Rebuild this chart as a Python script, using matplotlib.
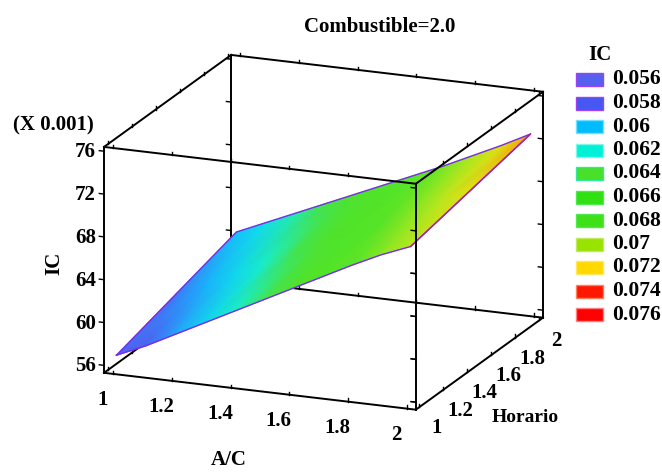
import numpy as np
import matplotlib
matplotlib.use('Agg')
import matplotlib.pyplot as plt
from matplotlib.colors import LinearSegmentedColormap
from matplotlib.patches import Rectangle
from mpl_toolkits.mplot3d import proj3d

W, H = 662, 472

# datos
ac_vals = [1.0, 1.1, 1.2, 1.3, 1.4, 1.5, 1.6, 1.7, 1.8, 1.9, 2.0]
horario_vals = [1.0, 1.5, 2.0]
ic_h1 = [56.8, 58.0, 59.4, 60.8, 62.2, 63.6, 65.0, 66.4, 67.8, 69.1, 70.2]
ic_h15 = [58.5, 59.7, 61.0, 62.3, 63.6, 64.9, 66.2, 67.5, 68.9, 70.2, 71.4]
ic_h2 = [60.2, 61.4, 62.6, 63.8, 65.0, 66.2, 67.4, 68.6, 69.9, 71.2, 72.6]

ac_ticks = [1, 1.2, 1.4, 1.6, 1.8, 2]
ac_labels = ['1', '1.2', '1.4', '1.6', '1.8', '2']
horario_ticks = [1, 1.2, 1.4, 1.6, 1.8, 2]
horario_labels = ['1', '1.2', '1.4', '1.6', '1.8', '2']
ic_ticks = [56, 60, 64, 68, 72, 76]

levels = [0.056, 0.058, 0.06, 0.062, 0.064, 0.066, 0.068, 0.07, 0.072, 0.074, 0.076]
level_labels = ['0.056', '0.058', '0.06', '0.062', '0.064', '0.066', '0.068', '0.07', '0.072', '0.074', '0.076']
level_colors = ['#5560ee', '#4658f2', '#00bcff', '#00f0d8', '#48e028', '#30e010',
                '#40e018', '#98e400', '#ffd800', '#ff1800', '#ff0000']
surface_colors = ['#5560ee', '#4c62f2', '#10c0ff', '#10f0e0', '#50e030', '#50e428',
                  '#58e428', '#b0e820', '#f8dc10', '#ff1800', '#ff0000']
swatch_edges = ['#a040f0', '#a040f0', '#70e0ff', '#80f8e8', '#30e8a0', '#50e850',
                '#50e850', '#c0e860', '#ffe860', '#ff8060', '#ff8080']

ac_lim = (0.97, 2.03)
hor_lim = (0.97, 2.03)
ic_lim = (55.3, 76.4)

plt.rcParams['font.family'] = ['Liberation Serif', 'DejaVu Serif']
plt.rcParams['font.weight'] = 'bold'

fig = plt.figure(figsize=(W / 100, H / 100), dpi=100)
S = 517.4
ax = fig.add_axes([57.8 / W, -26 / H, S / W, S / H], projection='3d', proj_type='ortho')
ax.view_init(elev=17, azim=-68)
ax.set_box_aspect((336, 339, 236))
ax.set_xlim(*ac_lim)
ax.set_ylim(*hor_lim)
ax.set_zlim(*ic_lim)
ax.set_axis_off()
ax.patch.set_alpha(0)

a0, a1 = ac_lim
h0, h1 = hor_lim
z0, z1 = ic_lim
BOX_LW = 1.4

# aristas que quedan detras de la superficie
back_edges = [
    ((a0, h0, z0), (a1, h0, z0)),
    ((a0, h0, z0), (a0, h1, z0)),
    ((a0, h1, z0), (a1, h1, z0)),
    ((a1, h0, z0), (a1, h1, z0)),
    ((a0, h0, z0), (a0, h0, z1)),
    ((a0, h1, z0), (a0, h1, z1)),
    ((a1, h1, z0), (a1, h1, z1)),
    ((a0, h1, z1), (a1, h1, z1)),
    ((a0, h0, z1), (a0, h1, z1)),
]
front_edges = [
    ((a1, h0, z0), (a1, h0, z1)),
    ((a0, h0, z1), (a1, h0, z1)),
    ((a1, h0, z1), (a1, h1, z1)),
]
for p, q in back_edges:
    ax.plot(*zip(p, q), color='black', lw=BOX_LW, solid_capstyle='projecting')

# marcas de los ejes en todas las aristas
for t in ic_ticks:
    for aa, hh in [(a0, h0), (a0, h1), (a1, h1), (a1, h0)]:
        ax.plot([aa, aa - 0.016], [hh, hh], [t, t], color='black', lw=1.0)
for t in ac_ticks:
    for hh, zz in [(h0, z0), (h1, z0), (h0, z1), (h1, z1)]:
        ax.plot([t, t], [hh, hh], [zz, zz + 0.3], color='black', lw=1.0)
for t in horario_ticks:
    for aa, zz in [(a0, z0), (a1, z0), (a0, z1), (a1, z1)]:
        ax.plot([aa, aa], [t, t], [zz, zz + 0.3], color='black', lw=1.0)

fig.canvas.draw()


def to_px(a, h, z):
    a, h, z = np.asarray(a, float), np.asarray(h, float), np.asarray(z, float)
    x, y, _ = proj3d.proj_transform(a.ravel(), h.ravel(), z.ravel(), ax.get_proj())
    pts = ax.transData.transform(np.column_stack([x, y]))
    return pts[:, 0].reshape(a.shape), (H - pts[:, 1]).reshape(a.shape)


# capa 2D en pixeles encima de la caja
ov = fig.add_axes([0, 0, 1, 1])
ov.set_xlim(0, W)
ov.set_ylim(H, 0)
ov.set_axis_off()
ov.patch.set_alpha(0)

cmap = LinearSegmentedColormap.from_list(
    'ic', [((v - levels[0]) / (levels[-1] - levels[0]), c) for v, c in zip(levels, surface_colors)])

A, Hr = np.meshgrid(ac_vals, horario_vals)
Z = np.array([ic_h1, ic_h15, ic_h2])
X2, Y2 = to_px(A, Hr, Z)
ov.pcolormesh(X2, Y2, Z * 0.001, shading='gouraud', cmap=cmap, vmin=levels[0], vmax=levels[-1])

# borde de la superficie
ba = list(ac_vals) + [ac_vals[-1]] * 3 + list(ac_vals[::-1]) + [ac_vals[0]] * 3
bh = [horario_vals[0]] * len(ac_vals) + list(horario_vals) + [horario_vals[-1]] * len(ac_vals) + list(horario_vals[::-1])
bz = list(Z[0]) + list(Z[:, -1]) + list(Z[2][::-1]) + list(Z[:, 0][::-1])
bx, by = to_px(ba, bh, bz)
ov.plot(bx, by, color='#7a2ce8', lw=1.0, solid_joinstyle='round')
rx, ry = to_px([2.0, 2.0, 2.0], horario_vals, Z[:, -1])
ov.plot(rx, ry, color='#b02490', lw=1.0)

for p, q in front_edges:
    ex, ey = to_px(*zip(p, q))
    ov.plot(ex, ey, color='black', lw=BOX_LW, solid_capstyle='projecting')
for t in ic_ticks:
    ex, ey = to_px([a1, a1 - 0.016], [h0, h0], [t, t])
    ov.plot(ex, ey, color='black', lw=1.0)

TICK_FS = 15
for t, lab in zip(ac_ticks, ac_labels):
    tx, ty = to_px(t, h0, z0)
    ov.text(tx - 10.5, ty + 26, lab, ha='center', va='center', fontsize=TICK_FS, fontweight='bold')
for t, lab in zip(horario_ticks, horario_labels):
    tx, ty = to_px(a1, t, z0)
    ov.text(tx + 17, ty + 21, lab, ha='center', va='center', fontsize=TICK_FS, fontweight='bold')
for t in ic_ticks:
    tx, ty = to_px(a0, h0, t)
    ov.text(tx - 8, ty + 1, str(t), ha='right', va='center', fontsize=TICK_FS, fontweight='bold')

ov.text(380, 27, 'Combustible=2.0', ha='center', va='center', fontsize=15, fontweight='bold')
ov.text(53, 125, '(X 0.001)', ha='center', va='center', fontsize=15, fontweight='bold')
ov.text(54, 263, 'IC', ha='center', va='center', rotation=90, fontsize=15, fontweight='bold')
ov.text(229, 460, 'A/C', ha='center', va='center', fontsize=15, fontweight='bold')
ov.text(525, 418, 'Horario', ha='center', va='center', fontsize=14, fontweight='bold')
ov.text(600, 55, 'IC', ha='center', va='center', fontsize=15, fontweight='bold')

# leyenda
for i, (lab, c, ec) in enumerate(zip(level_labels, level_colors, swatch_edges)):
    y = 73 + 23.5 * i
    ov.add_patch(Rectangle((576, y), 27, 13, facecolor=c, edgecolor=ec, lw=1.0))
    ov.text(612, y + 6.5, lab, ha='left', va='center', fontsize=15.5, fontweight='bold')

fig.savefig('out.png', dpi=100)
